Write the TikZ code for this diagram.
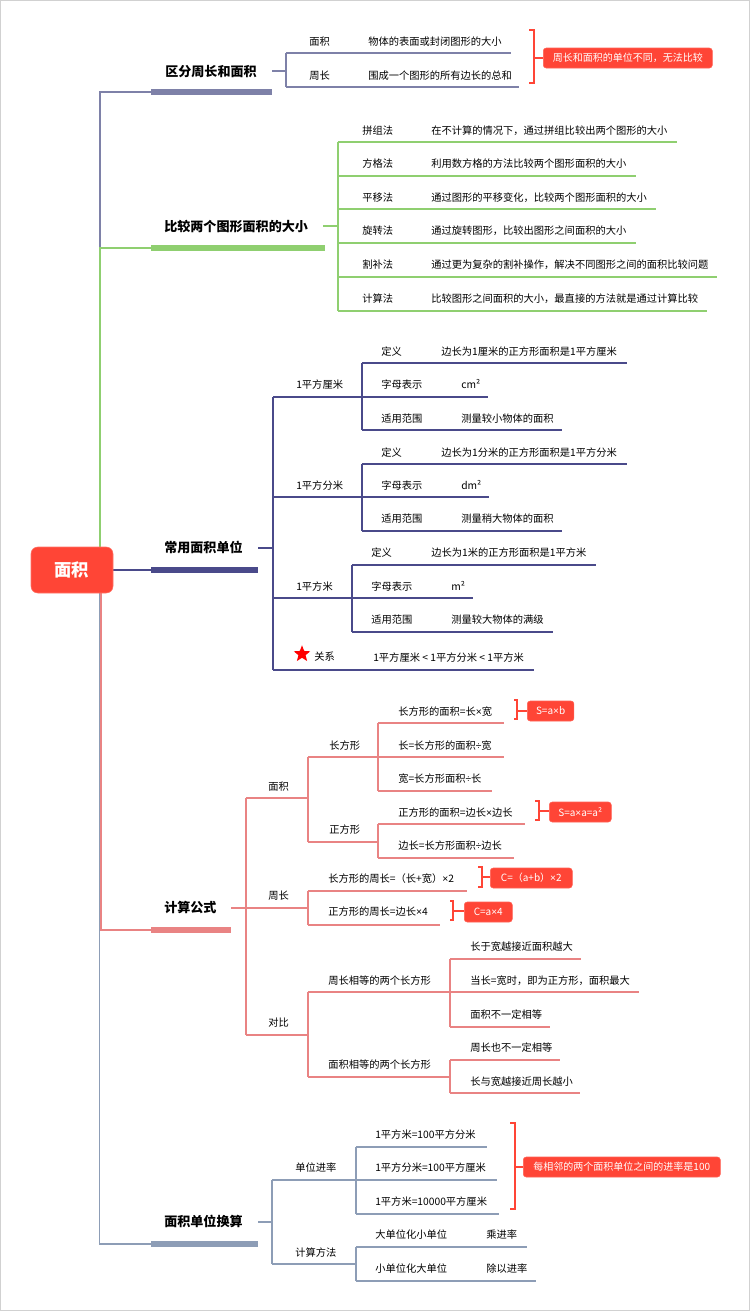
\documentclass[tikz,border=0pt]{standalone}
\usepackage{fontspec}
\setmainfont{Noto Sans CJK SC}
\newfontfamily\lat{Liberation Sans}
\usetikzlibrary{shapes.geometric}

\definecolor{colA}{HTML}{7E81A8}
\definecolor{colB}{HTML}{8FCF70}
\definecolor{colC}{HTML}{4A4A8A}
\definecolor{colD}{HTML}{E98383}
\definecolor{colE}{HTML}{8D9DB6}
\definecolor{hot}{HTML}{FF4536}

\newcommand{\mul}{{\lat ×}}
\newcommand{\dvd}{{\lat ÷}}

\begin{document}
\begin{tikzpicture}[x=0.75pt,y=-0.75pt,
    lnk/.style={line width=1.1pt},
    bar/.style={line width=3.8pt},
    brk/.style={hot,line width=1.1pt},
    txt/.style={anchor=west,inner sep=0pt,font=\fontsize{7.7}{9}\selectfont,
      text height=6.6pt,text depth=1.4pt},
    ttl/.style={anchor=west,inner sep=0pt,font=\bfseries\fontsize{9.8}{12}\selectfont,
      text height=8.5pt,text depth=2pt},
    tag/.style={fill=hot,draw=hot!85!white,rounded corners=2.2pt,text=white,
      font=\fontsize{7.5}{9}\selectfont,inner sep=0pt,minimum height=15pt}]
        \useasboundingbox (0,0) rectangle (750,1311);
        \draw [black!18,line width=1.5pt] (0,0) rectangle (750,1311);
        %
        % trunk lines
        \draw [lnk,colA] (72,570) -- (100,570) -- (100,92) -- (151,92);
        \draw [lnk,colB] (72,570) -- (100,570) -- (100,248) -- (151,248);
        \draw [lnk,colD] (72,570) -- (101,570) -- (101,930) -- (151,930);
        \draw [lnk,colE] (72,570) -- (99.5,570) -- (99.5,1244) -- (151,1244);
        \draw [lnk,colC] (72,570) -- (151,570);
        %
        \node [fill=hot,draw=hot!75!white,rounded corners=5pt,minimum width=61.5pt,
          minimum height=34.5pt,text=white,font=\bfseries\fontsize{13}{15}\selectfont]
          (root) at (72,570) {面积};
        %
        % branch 1
        \draw [bar,colA] (151,92) -- (272,92);
        \node [ttl] (b1) at (165,72) {区分周长和面积};
        \draw [lnk,colA] (272,71) -- (286,71);
        \draw [lnk,colA] (286,53) -- (286,87);
        \draw [lnk,colA] (286,53) -- (511,53);
        \draw [lnk,colA] (286,87) -- (519,87);
        \node [txt] (b1a) at (309,42) {面积};
        \node [txt] (b1a1) at (368,42) {物体的表面或封闭图形的大小};
        \node [txt] (b1b) at (309,76) {周长};
        \node [txt] (b1b1) at (368,76) {围成一个图形的所有边长的总和};
        \draw [brk] (529,30) -- (534,30) -- (534,83) -- (529,83);
        \draw [brk] (534,58) -- (543,58);
        \node [tag,minimum width=126.8pt,anchor=west] (n1) at (543,58) {周长和面积的单位不同，无法比较};
        %
        % branch 2
        \draw [bar,colB] (151,248) -- (325,248);
        \node [ttl] (b2) at (164,227) {比较两个图形面积的大小};
        \draw [lnk,colB] (323,226) -- (338,226);
        \draw [lnk,colB] (338,142) -- (338,311);
        \draw [lnk,colB] (338,142) -- (677,142);
        \draw [lnk,colB] (338,176) -- (636,176);
        \draw [lnk,colB] (338,209) -- (656,209);
        \draw [lnk,colB] (338,243) -- (636,243);
        \draw [lnk,colB] (338,277) -- (717,277);
        \draw [lnk,colB] (338,311) -- (707,311);
        \node [txt] (b2a) at (362,131) {拼组法};
        \node [txt] (b2a1) at (431,131) {在不计算的情况下，通过拼组比较出两个图形的大小};
        \node [txt] (b2b) at (362,164) {方格法};
        \node [txt] (b2b1) at (431,164) {利用数方格的方法比较两个图形面积的大小};
        \node [txt] (b2c) at (362,198) {平移法};
        \node [txt] (b2c1) at (431,198) {通过图形的平移变化，比较两个图形面积的大小};
        \node [txt] (b2d) at (362,231) {旋转法};
        \node [txt] (b2d1) at (431,231) {通过旋转图形，比较出图形之间面积的大小};
        \node [txt] (b2e) at (362,265) {割补法};
        \node [txt] (b2e1) at (431,265) {通过更为复杂的割补操作，解决不同图形之间的面积比较问题};
        \node [txt] (b2f) at (362,299) {计算法};
        \node [txt] (b2f1) at (431,299) {比较图形之间面积的大小，最直接的方法就是通过计算比较};
        %
        % branch 3
        \draw [bar,colC] (151,570) -- (258,570);
        \node [ttl] (b3) at (164,548) {常用面积单位};
        \draw [lnk,colC] (258,548) -- (273,548);
        \draw [lnk,colC] (273,397) -- (273,670);
        \draw [lnk,colC] (273,397) -- (362,397);
        \draw [lnk,colC] (273,497) -- (362,497);
        \draw [lnk,colC] (273,598) -- (352,598);
        \draw [lnk,colC] (273,670) -- (534,670);
        \node [txt] (b3a) at (296,385) {1平方厘米};
        \node [txt] (b3b) at (296,486) {1平方分米};
        \node [txt] (b3c) at (296,587) {1平方米};
        \node [star,star points=5,star point ratio=2.3,fill=red,inner sep=0pt,
          minimum size=13pt] (b3s) at (302,654) {};
        \node [txt] (b3d) at (314,657) {关系};
        \node [txt] (b3d1) at (373,658) {1平方厘米 < 1平方分米 < 1平方米};
        %
        \draw [lnk,colC] (362,363) -- (362,430);
        \draw [lnk,colC] (362,363) -- (627,363);
        \draw [lnk,colC] (362,397) -- (488,397);
        \draw [lnk,colC] (362,430) -- (562,430);
        \node [txt] (b3a1) at (381,352) {定义};
        \node [txt] (b3a1x) at (441,352) {边长为1厘米的正方形面积是1平方厘米};
        \node [txt] (b3a2) at (381,385) {字母表示};
        \node [txt] (b3a2x) at (461,385) {cm²};
        \node [txt] (b3a3) at (381,419) {适用范围};
        \node [txt] (b3a3x) at (461,419) {测量较小物体的面积};
        %
        \draw [lnk,colC] (362,464) -- (362,531);
        \draw [lnk,colC] (362,464) -- (627,464);
        \draw [lnk,colC] (362,497) -- (489,497);
        \draw [lnk,colC] (362,531) -- (562,531);
        \node [txt] (b3b1) at (381,453) {定义};
        \node [txt] (b3b1x) at (441,453) {边长为1分米的正方形面积是1平方分米};
        \node [txt] (b3b2) at (381,486) {字母表示};
        \node [txt] (b3b2x) at (461,486) {dm²};
        \node [txt] (b3b3) at (381,519) {适用范围};
        \node [txt] (b3b3x) at (461,519) {测量稍大物体的面积};
        %
        \draw [lnk,colC] (352,565) -- (352,632);
        \draw [lnk,colC] (352,565) -- (596,565);
        \draw [lnk,colC] (352,598) -- (473,598);
        \draw [lnk,colC] (352,632) -- (553,632);
        \node [txt] (b3c1) at (371,553) {定义};
        \node [txt] (b3c1x) at (431,553) {边长为1米的正方形面积是1平方米};
        \node [txt] (b3c2) at (371,587) {字母表示};
        \node [txt] (b3c2x) at (451,587) {m²};
        \node [txt] (b3c3) at (371,620) {适用范围};
        \node [txt] (b3c3x) at (451,620) {测量较大物体的满级};
        %
        % branch 4
        \draw [bar,colD] (151,930) -- (231,930);
        \node [ttl] (b4) at (164,908) {计算公式};
        \draw [lnk,colD] (231,908) -- (246,908);
        \draw [lnk,colD] (246,798) -- (246,1035);
        \draw [lnk,colD] (246,798) -- (308,798);
        \draw [lnk,colD] (246,908) -- (308,908);
        \draw [lnk,colD] (246,1035) -- (308,1035);
        \node [txt] (b4a) at (268,787) {面积};
        \node [txt] (b4b) at (268,896) {周长};
        \node [txt] (b4c) at (268,1023) {对比};
        %
        \draw [lnk,colD] (308,757) -- (308,842);
        \draw [lnk,colD] (308,757) -- (378,757);
        \draw [lnk,colD] (308,842) -- (378,842);
        \node [txt] (b4a1) at (329,746) {长方形};
        \node [txt] (b4a2) at (329,830) {正方形};
        \draw [lnk,colD] (378,723) -- (378,791);
        \draw [lnk,colD] (378,723) -- (504,723);
        \draw [lnk,colD] (378,757) -- (504,757);
        \draw [lnk,colD] (378,791) -- (492,791);
        \node [txt] (b4a11) at (398,712) {长方形的面积=长\mul 宽};
        \node [txt] (b4a12) at (398,746) {长=长方形的面积\dvd 宽};
        \node [txt] (b4a13) at (398,779) {宽=长方形面积\dvd 长};
        \draw [lnk,colD] (378,824) -- (378,858);
        \draw [lnk,colD] (378,824) -- (525,824);
        \draw [lnk,colD] (378,858) -- (514,858);
        \node [txt] (b4a21) at (398,813) {正方形的面积=边长\mul 边长};
        \node [txt] (b4a22) at (398,846) {边长=长方形面积\dvd 边长};
        %
        \draw [lnk,colD] (308,891) -- (308,925);
        \draw [lnk,colD] (308,891) -- (467,891);
        \draw [lnk,colD] (308,925) -- (440,925);
        \node [txt] (b4b1) at (328,879) {长方形的周长=（长+宽）\mul 2};
        \node [txt] (b4b2) at (328,912) {正方形的周长=边长\mul 4};
        %
        \draw [lnk,colD] (308,992) -- (308,1077);
        \draw [lnk,colD] (308,992) -- (450,992);
        \draw [lnk,colD] (308,1077) -- (450,1077);
        \node [txt] (b4c1) at (328,981) {周长相等的两个长方形};
        \node [txt] (b4c2) at (328,1065) {面积相等的两个长方形};
        \draw [lnk,colD] (450,959) -- (450,1027);
        \draw [lnk,colD] (450,959) -- (581,959);
        \draw [lnk,colD] (450,992) -- (639,992);
        \draw [lnk,colD] (450,1027) -- (550,1027);
        \node [txt] (b4c11) at (470,947) {长于宽越接近面积越大};
        \node [txt] (b4c12) at (470,981) {当长=宽时，即为正方形，面积最大};
        \node [txt] (b4c13) at (470,1015) {面积不一定相等};
        \draw [lnk,colD] (450,1060) -- (450,1093);
        \draw [lnk,colD] (450,1060) -- (560,1060);
        \draw [lnk,colD] (450,1093) -- (580,1093);
        \node [txt] (b4c21) at (470,1048) {周长也不一定相等};
        \node [txt] (b4c22) at (470,1082) {长与宽越接近周长越小};
        %
        \draw [brk] (514,700) -- (517,700) -- (517,719) -- (514,719);
        \draw [brk] (517,711) -- (527,711);
        \node [tag,minimum width=35pt,anchor=west] (n2) at (527,711) {S=a\mul b};
        \draw [brk] (535,801) -- (539,801) -- (539,820) -- (535,820);
        \draw [brk] (539,811) -- (549,811);
        \node [tag,minimum width=46.5pt,anchor=west] (n3) at (549,812) {S=a\mul a=a²};
        \draw [brk] (478,867) -- (482,867) -- (482,887) -- (478,887);
        \draw [brk] (482,877) -- (490,877);
        \node [tag,minimum width=61.5pt,anchor=west] (n4) at (490,878) {C=（a+b）\mul 2};
        \draw [brk] (450,901) -- (453,901) -- (453,920) -- (450,920);
        \draw [brk] (453,911) -- (464,911);
        \node [tag,minimum width=36pt,anchor=west] (n5) at (464,912) {C=a\mul 4};
        %
        % branch 5
        \draw [bar,colE] (151,1244) -- (258,1244);
        \node [ttl] (b5) at (164,1222) {面积单位换算};
        \draw [lnk,colE] (258,1222) -- (272,1222);
        \draw [lnk,colE] (272,1180) -- (272,1264);
        \draw [lnk,colE] (272,1180) -- (356,1180);
        \draw [lnk,colE] (272,1264) -- (356,1264);
        \node [txt] (b5a) at (295,1168) {单位进率};
        \node [txt] (b5b) at (295,1253) {计算方法};
        \draw [lnk,colE] (356,1147) -- (356,1214);
        \draw [lnk,colE] (356,1147) -- (487,1147);
        \draw [lnk,colE] (356,1180) -- (497,1180);
        \draw [lnk,colE] (356,1214) -- (499,1214);
        \node [txt] (b5a1) at (375,1135) {1平方米=100平方分米};
        \node [txt] (b5a2) at (375,1168) {1平方分米=100平方厘米};
        \node [txt] (b5a3) at (375,1202) {1平方米=10000平方厘米};
        \draw [lnk,colE] (356,1247) -- (356,1281);
        \draw [lnk,colE] (356,1247) -- (527,1247);
        \draw [lnk,colE] (356,1281) -- (536,1281);
        \node [txt] (b5b1) at (375,1235) {大单位化小单位};
        \node [txt] (b5b1x) at (486,1235) {乘进率};
        \node [txt] (b5b2) at (375,1269) {小单位化大单位};
        \node [txt] (b5b2x) at (486,1269) {除以进率};
        \draw [brk] (510,1123) -- (515,1123) -- (515,1209) -- (510,1209);
        \draw [brk] (515,1167) -- (523,1167);
        \node [tag,minimum width=147.8pt,anchor=west] (n6) at (523,1167) {每相邻的两个面积单位之间的进率是100};
      \end{tikzpicture}
\end{document}
